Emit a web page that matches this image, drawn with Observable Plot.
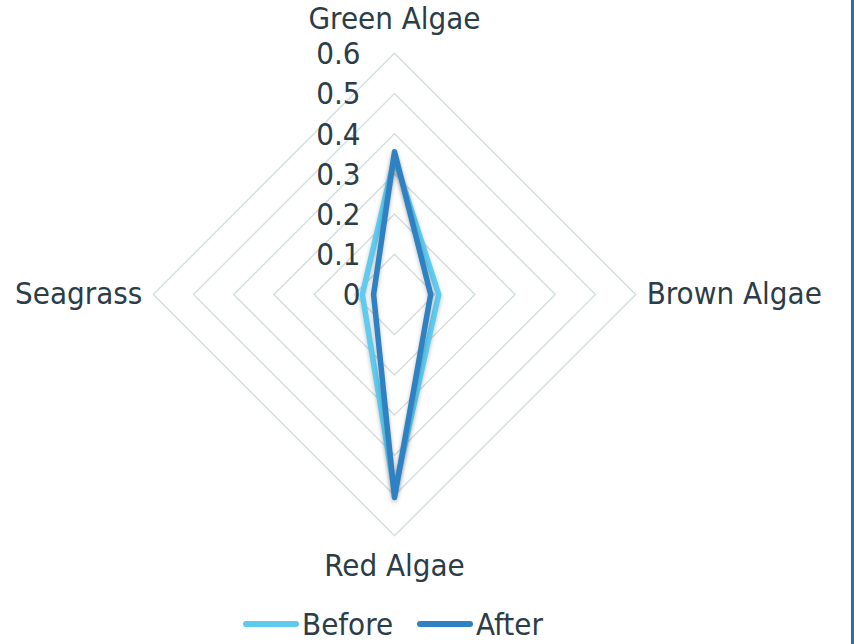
<!DOCTYPE html>
<html>
<head>
<meta charset="utf-8">
<script src="https://cdn.jsdelivr.net/npm/d3@7"></script>
<script src="https://cdn.jsdelivr.net/npm/@observablehq/plot@0.6"></script>
<style>
  html, body { margin: 0; padding: 0; background: #ffffff; }
  #wrap { position: relative; width: 854px; height: 644px; overflow: hidden; font-family: "DejaVu Sans Condensed", "DejaVu Sans", sans-serif; font-stretch: condensed; color: #2b3d47; }
  #border { position: absolute; left: 851px; top: 0; width: 3px; height: 644px; background: #2c6ea6; }
  #legend { position: absolute; left: 243px; top: 604px; height: 40px; display: flex; align-items: center; gap: 24px; font-size: 31px; }
  .item { display: flex; align-items: center; }
  .swatch { width: 56px; height: 6px; border-radius: 3px; margin-right: 3px; }
</style>
</head>
<body>
<div id="wrap">
  <div id="chart"></div>
  <div id="legend"></div>
  <div id="border"></div>
</div>
<script>
const categories = ["Green Algae", "Brown Algae", "Red Algae", "Seagrass"];
const seriesNames = ["Before", "After"];
const beforeValues = [0.34, 0.11, 0.49, 0.08];
const afterValues = [0.355, 0.09, 0.505, 0.052];
const tickValues = [0, 0.1, 0.2, 0.3, 0.4, 0.5, 0.6];
const tickLabels = ["0", "0.1", "0.2", "0.3", "0.4", "0.5", "0.6"];
const colors = ["#5ecbef", "#2e82c4"];
const textColor = "#2b3d47";
const gridColor = "#d3dedf";

const maxR = 0.6;
const n = categories.length;
const angle = i => (2 * Math.PI * i) / n; // clockwise from top
const px = (i, r) => r * Math.sin(angle(i));
const py = (i, r) => r * Math.cos(angle(i));

const gridPts = [];
tickValues.filter(t => t > 0).forEach(t => {
  categories.forEach((c, i) => gridPts.push({level: t, x: px(i, t), y: py(i, t)}));
});

const seriesVals = [beforeValues, afterValues];
const seriesPts = [];
seriesNames.forEach((s, k) => {
  categories.forEach((c, i) => seriesPts.push({series: s, x: px(i, seriesVals[k][i]), y: py(i, seriesVals[k][i])}));
});

const catLabels = categories.map((c, i) => ({name: c, x: px(i, maxR), y: py(i, maxR), i}));
const tickData = tickValues.map((t, i) => ({v: t, label: tickLabels[i]}));

const unit = 402;
const cx = 394, cy = 294;
const fontFam = "'DejaVu Sans Condensed', 'DejaVu Sans', sans-serif";
const fs = 31;

const chart = Plot.plot({
  width: 854,
  height: 604,
  margin: 0,
  style: {background: "transparent", fontFamily: fontFam, color: textColor},
  x: {domain: [-1, 1], range: [cx - unit, cx + unit], axis: null},
  y: {domain: [-1, 1], range: [cy + unit, cy - unit], axis: null},
  color: {domain: seriesNames, range: colors},
  marks: [
    Plot.line(gridPts, {x: "x", y: "y", z: "level", curve: "linear-closed", stroke: gridColor, strokeWidth: 1.4}),
    Plot.line(seriesPts, {x: "x", y: "y", z: "series", stroke: "series", curve: "linear-closed", strokeWidth: 5.5, strokeLinejoin: "round", strokeLinecap: "round"}),
    Plot.text(tickData, {x: 0, y: "v", text: "label", textAnchor: "end", dx: -34, dy: 1, fontSize: fs, fill: textColor, fontFamily: fontFam}),
    Plot.text(catLabels.filter(d => d.i === 0), {x: "x", y: "y", text: "name", dy: -34, fontSize: fs, fill: textColor, fontFamily: fontFam}),
    Plot.text(catLabels.filter(d => d.i === 1), {x: "x", y: "y", text: "name", textAnchor: "start", dx: 11, fontSize: fs, fill: textColor, fontFamily: fontFam}),
    Plot.text(catLabels.filter(d => d.i === 2), {x: "x", y: "y", text: "name", dy: 30, fontSize: fs, fill: textColor, fontFamily: fontFam}),
    Plot.text(catLabels.filter(d => d.i === 3), {x: "x", y: "y", text: "name", textAnchor: "end", dx: -11, fontSize: fs, fill: textColor, fontFamily: fontFam})
  ]
});
chart.querySelectorAll("path").forEach(p => {
  if (p.getAttribute("stroke-width") === "5.5" || (p.parentNode && p.parentNode.getAttribute("stroke-width") === "5.5")) {
    p.style.filter = "drop-shadow(0px 2px 2px rgba(0,0,0,0.25))";
  }
});
document.getElementById("chart").appendChild(chart);

const legend = document.getElementById("legend");
seriesNames.forEach((s, k) => {
  const item = document.createElement("div");
  item.className = "item";
  const sw = document.createElement("div");
  sw.className = "swatch";
  sw.style.background = colors[k];
  const lab = document.createElement("span");
  lab.textContent = s;
  item.appendChild(sw);
  item.appendChild(lab);
  legend.appendChild(item);
});
</script>
</body>
</html>
